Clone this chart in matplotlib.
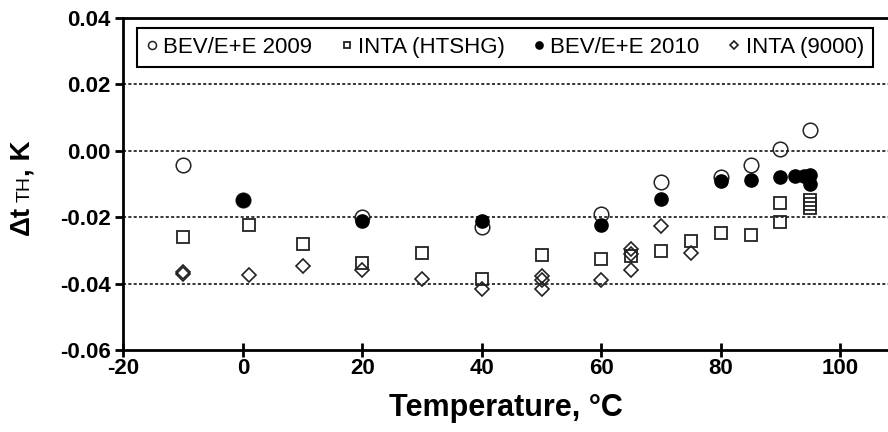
import matplotlib
matplotlib.use("Agg")
import matplotlib.pyplot as plt

plt.rcParams['font.family'] = ['Liberation Sans', 'DejaVu Sans']
plt.rcParams['axes.unicode_minus'] = False

# BEV/E+E 2009 (open circles)
t_bev09 = [-10, 0, 20, 40, 60, 70, 80, 85, 90, 95]
d_bev09 = [-0.0043, -0.0148, -0.0199, -0.0229, -0.0189, -0.0095, -0.0079, -0.0042, 0.0006, 0.0064]

# INTA (HTSHG) (open squares)
t_htshg = [-10, 1, 10, 20, 30, 40, 50, 60, 65, 70, 75, 80, 85, 90, 90, 95, 95, 95]
d_htshg = [-0.0260, -0.0223, -0.0281, -0.0337, -0.0308, -0.0385, -0.0314, -0.0327, -0.0318,
           -0.0301, -0.0271, -0.0247, -0.0253, -0.0158, -0.0215, -0.0148, -0.0160, -0.0172]

# BEV/E+E 2010 (filled circles)
t_bev10 = [0, 20, 40, 60, 70, 80, 85, 90, 92.5, 94, 95, 95]
d_bev10 = [-0.0148, -0.0210, -0.0210, -0.0224, -0.0146, -0.0092, -0.0088, -0.0079,
           -0.0075, -0.0075, -0.0073, -0.0100]

# INTA (9000) (open diamonds)
t_9000 = [-10, -10, 1, 10, 20, 30, 40, 50, 50, 50, 60, 65, 65, 65, 70, 75]
d_9000 = [-0.0366, -0.0372, -0.0375, -0.0346, -0.0359, -0.0387, -0.0417, -0.0377, -0.0390,
          -0.0416, -0.0390, -0.0296, -0.0310, -0.0358, -0.0225, -0.0307]

fig = plt.figure(figsize=(8.88, 4.32), dpi=100)
ax = fig.add_axes([0.139, 0.19, 0.861, 0.768])

ec = '#222222'
ax.plot(t_bev09, d_bev09, 'o', ms=10.5, mfc='none', mec=ec, mew=1.1, label='BEV/E+E 2009')
ax.plot(t_htshg, d_htshg, 's', ms=9, mfc='none', mec=ec, mew=1.3, label='INTA (HTSHG)')
ax.plot(t_bev10, d_bev10, 'o', ms=9.5, mfc='black', mec='black', mew=1, label='BEV/E+E 2010')
ax.plot(t_9000, d_9000, 'D', ms=7.5, mfc='none', mec=ec, mew=1.2, label='INTA (9000)')

ax.set_xlim(-20, 108)
ax.set_ylim(-0.06, 0.04)
ax.set_xticks([-20, 0, 20, 40, 60, 80, 100])
ax.set_yticks([-0.06, -0.04, -0.02, 0.00, 0.02, 0.04])
ax.set_yticklabels(['-0.06', '-0.04', '-0.02', '0.00', '0.02', '0.04'])
for y in [-0.04, -0.02, 0.0, 0.02]:
    ax.axhline(y, color='black', lw=1.1, ls=(0, (2.0, 1.5)), zorder=0)

for s in ['left', 'top', 'bottom']:
    ax.spines[s].set_linewidth(2)
ax.spines['right'].set_visible(False)
ax.tick_params(axis='x', direction='inout', length=10, width=2, labelsize=16, pad=1)
ax.tick_params(axis='y', direction='out', length=6, width=2, labelsize=16, pad=3)
for lab in ax.get_xticklabels() + ax.get_yticklabels():
    lab.set_fontweight('bold')

ax.set_xlabel('Temperature, °C', fontsize=22, fontweight='bold', labelpad=10)

leg = ax.legend(ncol=4, loc='upper left', bbox_to_anchor=(0.018, 0.855, 0.962, 0.115),
                mode='expand', fontsize=16, borderaxespad=0,
                markerscale=0.55, handlelength=0.5, handletextpad=0.25, columnspacing=1.0,
                borderpad=0.4, fancybox=False, framealpha=1, edgecolor='black')
leg.get_frame().set_linewidth(1.5)

# y label: "Δt" bold, "TH" small regular, ", K" bold
fig.canvas.draw()
r = fig.canvas.get_renderer()
x_lab = 0.025
y0 = 0.455
t1 = fig.text(x_lab, y0, 'Δt', rotation=90, fontsize=20, fontweight='bold', ha='center', va='bottom')
fig.canvas.draw()
bb = t1.get_window_extent(r).transformed(fig.transFigure.inverted())
t2 = fig.text(x_lab + 0.003, bb.y1 + 0.01, 'TH', rotation=90, fontsize=14, ha='center', va='bottom')
fig.canvas.draw()
bb = t2.get_window_extent(r).transformed(fig.transFigure.inverted())
t3 = fig.text(x_lab, bb.y1, ', K', rotation=90, fontsize=20, fontweight='bold', ha='center', va='bottom')

fig.savefig('out.png', dpi=100)
